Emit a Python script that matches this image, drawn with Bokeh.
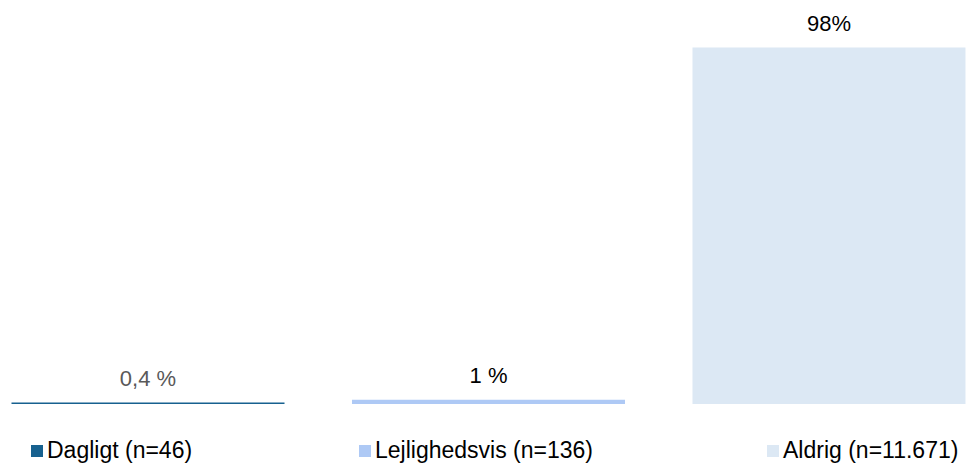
from bokeh.plotting import figure
from bokeh.models import ColumnDataSource, Legend, LegendItem, Range1d
from bokeh.embed import file_html
from bokeh.resources import INLINE
from bokeh.core.properties import value

categories = ["Dagligt (n=46)", "Lejlighedsvis (n=136)", "Aldrig (n=11.671)"]
shares = [0.39, 1.15, 98.46]
share_labels = ["0,4 %", "1 %", "98%"]
colors = ["#17618F", "#AEC9F5", "#DCE8F4"]
label_colors = ["#595959", "#000000", "#000000"]

xs = list(range(len(categories)))
src = ColumnDataSource(dict(x=xs, top=shares, label=share_labels, color=colors,
                            lcolor=label_colors, cat=categories))

W, H = 967, 466
p = figure(width=W, height=H, output_backend="svg", toolbar_location=None,
           min_border=0, min_border_left=0, min_border_right=0,
           min_border_top=0, min_border_bottom=0,
           x_range=Range1d(-0.4332, 2.4068), y_range=Range1d(-17.26, 111.44))
p.axis.visible = False
p.grid.visible = False
p.outline_line_color = None
p.background_fill_color = None
p.border_fill_color = None

bars = p.vbar(x="x", top="top", bottom=0, width=0.8018, fill_color="color",
              line_color=None, source=src)

p.text(x="x", y="top", text="label", text_color="lcolor", source=src,
       text_align="center", text_baseline="middle", y_offset=-24,
       text_font=value("Liberation Sans"), text_font_size="22px")

legend_x = [29, 357, 765]
for i, cat in enumerate(categories):
    item = LegendItem(label=cat, renderers=[bars], index=i)
    lg = Legend(items=[item], location=(legend_x[i], 2),
                orientation="horizontal",
                label_text_font="Liberation Sans", label_text_font_size="23px",
                label_text_color="#000000",
                glyph_width=15, glyph_height=15, label_standoff=3,
                padding=0, margin=0, spacing=0,
                border_line_color=None, background_fill_alpha=0)
    p.add_layout(lg, "center")

open("out.html", "w").write(file_html(p, INLINE))
